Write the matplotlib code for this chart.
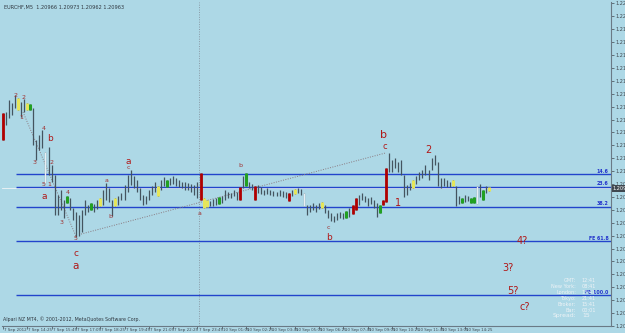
import numpy as np
import matplotlib.pyplot as plt

# EURCHF M5 chart (MT4 screenshot), prices stored in pips above 1.2000
symbol_title = "EURCHF,M5  1.20966 1.20973 1.20962 1.20963"
base_price = 1.2000
current_price = 1.20963

bar_high = [143.0, 143.7, 151.1, 149.2, 154.2, 152.3, 149.9, 151.7, 149.2, 148.6,
            146.1, 126.3, 129.4, 132.5, 118.9, 122.0, 110.8, 104.6, 92.2, 95.3,
            89.1, 91.6, 90.3, 84.1, 81.7, 79.8, 82.9, 89.1, 86.0, 87.2,
            86.6, 89.1, 90.3, 95.3, 99.7, 96.5, 89.1, 90.3, 91.6, 93.4,
            98.4, 104.6, 107.7, 104.0, 101.5, 96.5, 92.2, 91.6, 95.3, 97.8,
            100.3, 97.8, 101.5, 103.4, 101.5, 102.8, 104.0, 102.8, 101.5, 100.3,
            100.3, 99.7, 99.0, 98.4, 100.3, 105.9, 90.3, 89.1, 88.5, 89.7,
            90.3, 91.0, 91.6, 95.3, 94.1, 93.4, 95.3, 94.1, 97.2, 104.0,
            105.9, 100.3, 99.0, 97.8, 98.4, 97.2, 95.3, 96.5, 95.3, 94.7,
            94.1, 95.3, 94.7, 94.1, 93.4, 95.3, 95.9, 96.5, 95.9, 93.4,
            86.0, 86.0, 87.2, 86.0, 87.2, 87.9, 86.0, 82.9, 81.0, 79.2,
            81.0, 81.7, 81.0, 82.3, 84.1, 86.0, 90.3, 92.2, 93.4, 91.6,
            90.3, 91.0, 89.1, 87.2, 86.0, 89.1, 108.9, 118.2, 113.9, 115.1,
            112.7, 113.9, 104.6, 98.4, 99.7, 101.5, 104.0, 106.5, 107.7, 110.8,
            107.7, 115.1, 117.0, 112.7, 102.8, 102.8, 101.5, 100.3, 101.5, 97.8,
            91.6, 90.3, 92.2, 91.6, 90.3, 91.0, 97.8, 99.0, 95.3, 97.8,
            97.2]
bar_low = [126.3, 135.6, 140.0, 141.8, 146.1, 144.9, 140.6, 143.7, 144.9, 144.9,
           123.2, 113.9, 120.1, 121.3, 99.7, 104.6, 100.3, 79.8, 79.8, 82.9,
           77.9, 87.2, 82.9, 76.7, 66.2, 66.8, 69.3, 79.8, 81.7, 82.9,
           81.7, 83.5, 85.4, 86.0, 89.1, 87.9, 79.2, 85.4, 86.0, 89.1,
           89.1, 94.1, 98.4, 96.5, 94.1, 89.1, 86.0, 86.6, 89.1, 92.2,
           94.1, 91.6, 95.3, 97.8, 97.2, 98.4, 99.0, 97.8, 97.2, 96.5,
           95.3, 95.3, 94.1, 92.2, 90.3, 89.1, 84.1, 84.8, 85.4, 85.4,
           86.0, 86.6, 87.2, 89.1, 90.3, 90.3, 91.6, 89.1, 89.1, 96.5,
           97.8, 96.5, 95.3, 89.1, 93.4, 92.8, 92.2, 92.8, 92.2, 91.6,
           91.6, 91.6, 91.0, 90.3, 88.5, 91.6, 92.8, 93.4, 92.2, 85.4,
           79.8, 81.7, 82.9, 81.7, 83.5, 84.1, 81.0, 77.9, 76.1, 75.5,
           76.7, 77.9, 77.3, 77.9, 78.6, 80.4, 82.9, 86.0, 89.1, 87.9,
           85.4, 86.6, 84.1, 78.6, 81.0, 86.0, 87.9, 106.5, 106.5, 108.9,
           106.5, 104.6, 91.0, 92.2, 95.3, 96.5, 99.0, 101.5, 102.8, 104.6,
           101.5, 107.7, 110.8, 97.8, 96.5, 97.8, 97.2, 97.2, 97.8, 85.4,
           86.6, 87.2, 87.9, 88.5, 87.2, 87.2, 86.6, 91.0, 89.1, 93.4,
           94.7]

red_bars = [0, 65, 78, 83, 94, 115, 116, 125, 126]
yellow_bars = [5, 8, 32, 37, 51, 66, 67, 96, 105, 135, 148, 160]
green_bars = [9, 21, 29, 54, 71, 80, 113, 124, 151, 154, 155, 158]
white_bars = [14, 99, 156]

x_labels = ["7 Sep 2012", "7 Sep 14:25", "7 Sep 15:45", "7 Sep 17:05", "7 Sep 18:25",
            "7 Sep 19:45", "7 Sep 21:05", "7 Sep 22:25", "7 Sep 23:45", "10 Sep 01:05",
            "10 Sep 02:25", "10 Sep 03:45", "10 Sep 05:05", "10 Sep 06:25", "10 Sep 07:45",
            "10 Sep 09:05", "10 Sep 10:25", "10 Sep 11:45", "10 Sep 13:05", "10 Sep 14:25"]
price_ticks = [1.20110 + 0.0008 * k for k in range(26)]

fib_names = ["14.6", "23.6", "38.2", "FE 61.8", "FE 100.0"]
fib_pips = [105.2, 97.2, 84.8, 63.7, 30.2]

# wave counts: text, bar position, pips, size
wave_labels = [("2", 4.3, 153.8, 4.5), ("2", 6.9, 152.5, 4.5), ("1", 5.9, 140.0, 4.5),
               ("4", 13.5, 133.7, 4.5), ("b", 15.5, 127.0, 6.5), ("3", 10.5, 112.5, 4.5),
               ("2", 16.1, 112.5, 4.5), ("5", 13.5, 98.5, 4.5), ("1", 15.1, 98.5, 4.5),
               ("a", 13.5, 91.5, 6.5), ("4", 21.4, 93.5, 4.5), ("3", 19.4, 75.0, 4.5),
               ("5", 24.0, 65.0, 4.5), ("c", 24.0, 56.0, 6.5), ("a", 24.0, 48.0, 7.5),
               ("a", 34.2, 101.0, 4.5), ("b", 35.5, 79.2, 4.5), ("a", 41.1, 113.0, 6.5),
               ("c", 41.4, 109.0, 4.5), ("a", 64.8, 81.0, 4.5), ("b", 78.0, 110.5, 4.5),
               ("c", 107.2, 72.0, 4.5), ("b", 107.2, 66.0, 6.5), ("b", 125.3, 129.5, 8),
               ("c", 125.6, 122.5, 6), ("1", 130.0, 87.0, 7), ("2", 139.8, 120.0, 7),
               ("4?", 170.7, 64.0, 7), ("3?", 166.1, 47.0, 7), ("5?", 167.8, 33.0, 7),
               ("c?", 171.7, 23.0, 7)]

info_names = ["GMT:", "New York:", "London:", "Tokyo:", "Broker:", "Bar:", "Spread:"]
info_values = ["12:41", "08:41", "13:41", "21:41", "15:41", "00:01", "15"]

bg = "#add8e6"
to_price = lambda p: base_price + np.asarray(p) / 10000.0

fig = plt.figure(figsize=(6.25, 3.33), dpi=100, facecolor=bg)
ax = fig.add_axes([2 / 625, 7 / 333, 609 / 625, 324 / 333])
ax.set_facecolor(bg)

px = 3.04  # pixels per bar
xs = np.arange(len(bar_high))
hi = to_price(bar_high)
lo = to_price(bar_low)
ax.vlines(xs, lo, hi, color="#44545f", lw=0.9, zorder=3)
ax.vlines(xs[white_bars], lo[white_bars], hi[white_bars], color="#e8eef2", lw=1.0, zorder=4)
ax.vlines(xs[red_bars], lo[red_bars], hi[red_bars], color="#b00000", lw=2.0, zorder=4)
ax.vlines(xs[yellow_bars], lo[yellow_bars], hi[yellow_bars], color="#e6e65a", lw=2.2, zorder=4)
ax.vlines(xs[green_bars], lo[green_bars], hi[green_bars], color="#22a022", lw=2.2, zorder=4)

xmax = 609 / px - 0.3
ax.set_xlim(-0.3, xmax)
ax.set_ylim(1.20110, 1.22119)

# fibonacci levels
x0 = 13 / px
for name, lev in zip(fib_names, fib_pips):
    y = to_price(lev)
    ax.hlines(y, x0, xmax, color="#2244cc", lw=1.0, zorder=2)
    ax.text(xmax - 0.8, y + 0.00003, name, color="#2233cc", fontsize=3.4,
            fontweight="bold", ha="right", va="bottom", zorder=5)

ax.axhline(current_price, color="#f0f4f6", lw=0.6, zorder=1)
ax.axvline(64.5, color="#8a9aa6", lw=0.7, ls=(0, (1, 1.5)), zorder=1)

# dotted wave lines
ax.plot([6.6, 24.0], to_price([143.7, 66.8]), color="#8a7a80", lw=0.7, ls=(0, (1, 1.5)), zorder=2)
ax.plot([25.7, 125.7], to_price([68.0, 118.2]), color="#8a7a80", lw=0.7, ls=(0, (1, 1.5)), zorder=2)

for txt, xb, pp, size in wave_labels:
    col = "#b01818" if size >= 6 else "#a03030"
    ax.text(xb, to_price(pp), txt, color=col, fontsize=size, ha="center", va="center", zorder=6)

# axes styling
for s in ["top", "left"]:
    ax.spines[s].set_visible(False)
for s in ["right", "bottom"]:
    ax.spines[s].set_color("#6a7a86")
    ax.spines[s].set_linewidth(0.8)
ax.yaxis.tick_right()
ax.set_yticks(price_ticks)
ax.set_yticklabels([f"{p:.5f}" for p in price_ticks])
ax.tick_params(axis="y", labelsize=3.6, colors="#404850", length=2, width=0.5, pad=1)
ax.set_xticks(np.arange(0, 8 * len(x_labels), 8))
ax.set_xticklabels([])
ax.tick_params(axis="x", length=2, width=0.5, colors="#404850")
for k, lab in enumerate(x_labels):
    ax.text(8 * k + 0.4, -0.006, lab, transform=ax.get_xaxis_transform(),
            fontsize=2.9, color="#404850", ha="left", va="top")

# current price box
ax.text(1.0025, current_price, "1.20963", transform=ax.get_yaxis_transform(),
        fontsize=3.6, color="white", ha="left", va="center",
        bbox=dict(boxstyle="square,pad=0.15", fc="#404850", ec="none"), clip_on=False, zorder=7)

ax.text(0.004, 0.992, symbol_title, transform=ax.transAxes, fontsize=3.6,
        color="#303840", ha="left", va="top")
ax.text(0.002, 0.012, "Alpari NZ MT4, \u00a9 2001-2012, MetaQuotes Software Corp.",
        transform=ax.transAxes, fontsize=3.4, color="#303840", ha="left", va="bottom")

for k, (n, v) in enumerate(zip(info_names, info_values)):
    yy = 1 - (281 + 5.8 * k - 2) / 324
    ax.text(574 / 609, yy, n, transform=ax.transAxes, fontsize=3.6 if k < 6 else 4.4,
            color="#eef3f6", ha="right", va="center", zorder=6)
    ax.text(580 / 609, yy, v, transform=ax.transAxes, fontsize=3.6 if k < 6 else 4.4,
            color="#eef3f6", ha="left", va="center", zorder=6)

fig.savefig("out.png", dpi=100, facecolor=bg)
